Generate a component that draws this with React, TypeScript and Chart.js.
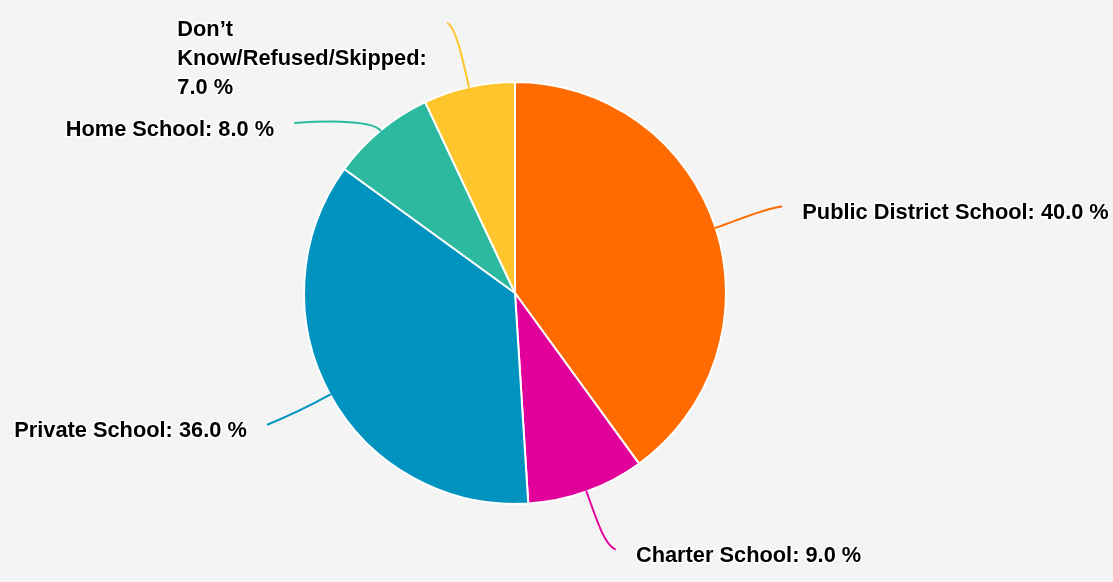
import { useEffect, useRef } from 'react';
import { Chart, registerables } from 'chart.js';

Chart.register(...registerables);

const categories = [
  'Public District School',
  'Charter School',
  'Private School',
  'Home School',
  'Don’t Know/Refused/Skipped',
];
const shares = [40, 9, 36, 8, 7];
const sliceColors = ['#FF6B00', '#E2009B', '#0093BF', '#2BBAA0', '#FFC52C'];

// label placement tweaks: angle offset (deg), distance beyond rim, wrap width,
// connector end tilt (deg, + = downward), start/end handle lengths
const labelLayout = [
  { angle: 0, dist: 69, wrap: Infinity, tilt: -9, h1: 20, h2: 22 },
  { angle: -1.5, dist: 64, wrap: Infinity, tilt: 27, h1: 32, h2: 12 },
  { angle: 0.8, dist: 69, wrap: Infinity, tilt: 22, h1: 20, h2: 20 },
  { angle: -12.7, dist: 67, wrap: Infinity, tilt: 4, h1: 12, h2: 40 },
  { angle: -1.4, dist: 67, wrap: 254, tilt: -30, h1: 32, h2: 9 },
];

const FONT = 'bold 21.8px "Liberation Sans", Arial, sans-serif';

function wrapText(ctx: CanvasRenderingContext2D, text: string, maxW: number): string[] {
  const words = text.split(' ');
  const lines: string[] = [];
  let cur = '';
  for (const w of words) {
    const test = cur ? cur + ' ' + w : w;
    if (cur && ctx.measureText(test).width > maxW) {
      lines.push(cur);
      cur = w;
    } else {
      cur = test;
    }
  }
  if (cur) lines.push(cur);
  return lines;
}

const leaderPlugin = {
  id: 'leaderLabels',
  afterDatasetsDraw(chart: any) {
    const ctx: CanvasRenderingContext2D = chart.ctx;
    const meta = chart.getDatasetMeta(0);
    meta.data.forEach((arc: any, i: number) => {
      const { x, y, startAngle, endAngle, outerRadius } = arc.getProps(
        ['x', 'y', 'startAngle', 'endAngle', 'outerRadius'],
        true
      );
      const mid = (startAngle + endAngle) / 2;
      const L = labelLayout[i];
      const dx = Math.cos(mid);
      const dy = Math.sin(mid);
      const p0x = x + dx * outerRadius;
      const p0y = y + dy * outerRadius;
      const c1x = p0x + dx * L.h1;
      const c1y = p0y + dy * L.h1;
      const ea = mid + (L.angle * Math.PI) / 180;
      const p3x = x + Math.cos(ea) * (outerRadius + L.dist);
      const p3y = y + Math.sin(ea) * (outerRadius + L.dist);
      const onRight = p3x >= x;
      const side = onRight ? 1 : -1;
      const t = (L.tilt * Math.PI) / 180;
      const ex = side * Math.cos(t);
      const ey = Math.sin(t);
      const c2x = p3x - ex * L.h2;
      const c2y = p3y - ey * L.h2;

      ctx.save();
      ctx.strokeStyle = sliceColors[i];
      ctx.lineWidth = 2;
      ctx.lineCap = 'round';
      ctx.beginPath();
      ctx.moveTo(p0x, p0y);
      ctx.bezierCurveTo(c1x, c1y, c2x, c2y, p3x, p3y);
      ctx.stroke();

      ctx.font = FONT;
      const text = `${categories[i]}: ${shares[i].toFixed(1)} %`;
      const lines = wrapText(ctx, text, L.wrap);
      const maxW = Math.max(...lines.map((l) => ctx.measureText(l).width));
      const left = onRight ? p3x + 21 : p3x - 21 - maxW;
      ctx.textAlign = 'left';
      ctx.textBaseline = 'alphabetic';
      ctx.lineJoin = 'round';
      ctx.strokeStyle = '#ffffff';
      ctx.lineWidth = 3;
      ctx.fillStyle = '#000000';
      lines.forEach((ln, k) => {
        const ty = p3y + 12.7 + k * 29;
        ctx.strokeText(ln, left, ty);
        ctx.fillText(ln, left, ty);
      });
      ctx.restore();
    });
  },
};

export default function App() {
  const canvasRef = useRef<HTMLCanvasElement | null>(null);

  useEffect(() => {
    document.body.style.margin = '0';
    document.body.style.background = '#f4f4f4';
    const canvas = canvasRef.current;
    if (!canvas) return;
    const chart = new Chart(canvas, {
      type: 'pie',
      data: {
        labels: categories,
        datasets: [
          {
            data: shares,
            backgroundColor: sliceColors,
            borderColor: '#ffffff',
            borderWidth: 2,
          },
        ],
      },
      options: {
        responsive: false,
        animation: false,
        layout: { padding: { left: 0, right: 83, top: 81, bottom: 77 } },
        plugins: {
          legend: { display: false },
          tooltip: { enabled: false },
        },
      },
      plugins: [leaderPlugin],
    });
    return () => chart.destroy();
  }, []);

  return (
    <div style={{ width: 1113, height: 582, background: '#f4f4f4' }}>
      <canvas ref={canvasRef} width={1113} height={582} style={{ display: 'block' }} />
    </div>
  );
}
